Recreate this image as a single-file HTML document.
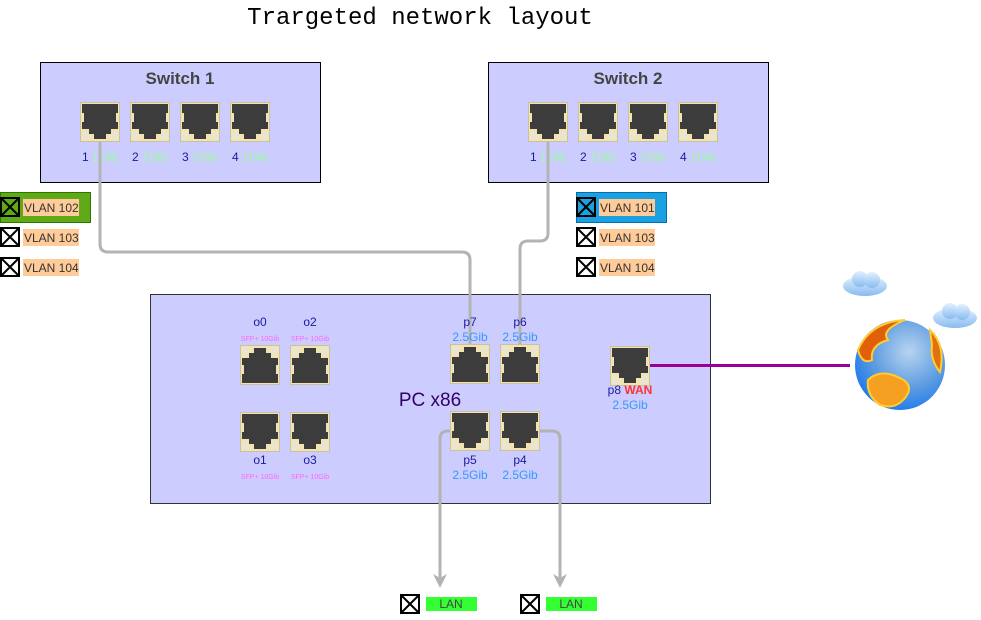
<!DOCTYPE html>
<html><head><meta charset="utf-8"><style>
html,body{margin:0;padding:0;background:#fff;}
svg{display:block;font-family:"Liberation Sans",sans-serif;}
</style></head><body>
<svg width="981" height="620" viewBox="0 0 981 620" xmlns="http://www.w3.org/2000/svg">
<defs>
<g id="port">
<rect x="0.5" y="0.5" width="39" height="39" fill="#f2e3b3" stroke="#c9c1a2"/>
<rect x="2" y="30" width="7" height="8" fill="#e9e5cf"/>
<rect x="31" y="30" width="7" height="8" fill="#e9e5cf"/>
<rect x="2" y="2" width="5" height="6" fill="#e9e5cf"/>
<rect x="33" y="2" width="5" height="6" fill="#e9e5cf"/>
<path d="M2 2 H38 V11 H36 V20 H38 V27 H31 V32 H26 V37 H14 V32 H9 V27 H2 V20 H4 V11 H2Z" fill="#3c3c3c"/>
</g>
<g id="portf"><use href="#port" transform="translate(0,40) scale(1,-1)"/></g>
<g id="cb"><rect x="1" y="1" width="18" height="18" fill="#fff" stroke="#000" stroke-width="2"/><path d="M1 1 L19 19 M19 1 L1 19" stroke="#000" stroke-width="2"/></g>
<radialGradient id="gl" cx="0.6" cy="0.35" r="0.7"><stop offset="0" stop-color="#b8d4f0"/><stop offset="0.6" stop-color="#5a9ae0"/><stop offset="1" stop-color="#1a78f0"/></radialGradient>
<linearGradient id="cl" x1="0" y1="0" x2="0" y2="1"><stop offset="0" stop-color="#e4f0ff"/><stop offset="1" stop-color="#88bbf0"/></linearGradient>
</defs>

<text x="420" y="24" text-anchor="middle" font-family="Liberation Mono,monospace" font-size="24" fill="#000">Trargeted network layout</text>

<!-- Switch 1 -->
<rect x="40.5" y="62.5" width="280" height="120" fill="#ccccff" stroke="#000"/>
<text x="180" y="84" text-anchor="middle" font-size="17" font-weight="bold" fill="#444">Switch 1</text>
<use href="#port" x="80" y="102"/><use href="#port" x="130" y="102"/><use href="#port" x="180" y="102"/><use href="#port" x="230" y="102"/>
<g font-size="12"><text x="82" y="161" fill="#1a1aa0">1 <tspan fill="#99ff99">1Gib</tspan></text>
<text x="132" y="161" fill="#1a1aa0">2 <tspan fill="#99ff99">1Gib</tspan></text>
<text x="182" y="161" fill="#1a1aa0">3 <tspan fill="#99ff99">1Gib</tspan></text>
<text x="232" y="161" fill="#1a1aa0">4 <tspan fill="#99ff99">1Gib</tspan></text></g>

<!-- Switch 2 -->
<rect x="488.5" y="62.5" width="280" height="120" fill="#ccccff" stroke="#000"/>
<text x="628" y="84" text-anchor="middle" font-size="17" font-weight="bold" fill="#444">Switch 2</text>
<use href="#port" x="528" y="102"/><use href="#port" x="578" y="102"/><use href="#port" x="628" y="102"/><use href="#port" x="678" y="102"/>
<g font-size="12"><text x="530" y="161" fill="#1a1aa0">1 <tspan fill="#99ff99">1Gib</tspan></text>
<text x="580" y="161" fill="#1a1aa0">2 <tspan fill="#99ff99">1Gib</tspan></text>
<text x="630" y="161" fill="#1a1aa0">3 <tspan fill="#99ff99">1Gib</tspan></text>
<text x="680" y="161" fill="#1a1aa0">4 <tspan fill="#99ff99">1Gib</tspan></text></g>

<!-- VLANs left -->
<rect x="0.5" y="192.5" width="90" height="30" fill="#60a917" stroke="#2d7600"/>
<g font-size="12" fill="#333">
<rect x="0" y="197" width="20" height="20" fill="#60a917"/><path d="M1 198 H19 V216 H1Z M1 198 L19 216 M19 198 L1 216" stroke="#000" stroke-width="2" fill="none"/>
<rect x="23" y="199" width="56" height="17" fill="#ffcc99"/><text x="24" y="212">VLAN 102</text>
<use href="#cb" x="0" y="227"/><rect x="23" y="229" width="56" height="17" fill="#ffcc99"/><text x="24" y="242">VLAN 103</text>
<use href="#cb" x="0" y="257"/><rect x="23" y="259" width="56" height="17" fill="#ffcc99"/><text x="24" y="272">VLAN 104</text>
</g>
<!-- VLANs right -->
<rect x="576.5" y="192.5" width="90" height="30" fill="#1ba1e2" stroke="#006eaf"/>
<g font-size="12" fill="#333">
<path d="M577 198 H595 V216 H577Z M577 198 L595 216 M595 198 L577 216" stroke="#000" stroke-width="2" fill="none"/>
<rect x="599" y="199" width="56" height="17" fill="#ffcc99"/><text x="600" y="212">VLAN 101</text>
<use href="#cb" x="576" y="227"/><rect x="599" y="229" width="56" height="17" fill="#ffcc99"/><text x="600" y="242">VLAN 103</text>
<use href="#cb" x="576" y="257"/><rect x="599" y="259" width="56" height="17" fill="#ffcc99"/><text x="600" y="272">VLAN 104</text>
</g>

<!-- PC -->
<rect x="150.5" y="294.5" width="560" height="209" fill="#ccccff" stroke="#333"/>
<text x="430" y="406" text-anchor="middle" font-size="19" fill="#330066">PC x86</text>
<g text-anchor="middle">
<text x="260" y="326" font-size="12" fill="#1a1aa0">o0</text><text x="260" y="341" font-size="7" fill="#ff66ff">SFP+ 10Gib</text>
<text x="310" y="326" font-size="12" fill="#1a1aa0">o2</text><text x="310" y="341" font-size="7" fill="#ff66ff">SFP+ 10Gib</text>
<text x="260" y="464" font-size="12" fill="#1a1aa0">o1</text><text x="260" y="479" font-size="7" fill="#ff66ff">SFP+ 10Gib</text>
<text x="310" y="464" font-size="12" fill="#1a1aa0">o3</text><text x="310" y="479" font-size="7" fill="#ff66ff">SFP+ 10Gib</text>
</g>
<use href="#portf" x="240" y="345"/><use href="#portf" x="290" y="345"/>
<use href="#port" x="240" y="412"/><use href="#port" x="290" y="412"/>
<use href="#portf" x="450" y="344"/><use href="#portf" x="500" y="344"/>
<use href="#port" x="450" y="411"/><use href="#port" x="500" y="411"/>
<use href="#port" x="610" y="346"/>

<!-- cables -->
<g fill="none" stroke="#b3b3b3" stroke-width="3">
<path d="M100 142 V244 Q100 252 108 252 H462 Q470 252 470 260 V344"/>
<path d="M548 142 V233 Q548 241 540 241 H528 Q520 241 520 249 V344"/>
<path d="M450 431 H448 Q440 431 440 439 V578"/>
<path d="M540 431 H552 Q560 431 560 439 V578"/>
</g>
<path d="M433 574 L440 588 L447 574 L440 578Z" fill="#b3b3b3"/>
<path d="M553 574 L560 588 L567 574 L560 578Z" fill="#b3b3b3"/>

<g text-anchor="middle">
<text x="470" y="326" font-size="12" fill="#1a1aa0">p7</text><text x="470" y="341" font-size="12" fill="#3399ff">2.5Gib</text>
<text x="520" y="326" font-size="12" fill="#1a1aa0">p6</text><text x="520" y="341" font-size="12" fill="#3399ff">2.5Gib</text>
<text x="470" y="464" font-size="12" fill="#1a1aa0">p5</text><text x="470" y="479" font-size="12" fill="#3399ff">2.5Gib</text>
<text x="520" y="464" font-size="12" fill="#1a1aa0">p4</text><text x="520" y="479" font-size="12" fill="#3399ff">2.5Gib</text>
<text x="630" y="394" font-size="12" fill="#1a1aa0">p8 <tspan fill="#ff3333" font-weight="bold">WAN</tspan></text>
<text x="630" y="409" font-size="12" fill="#3399ff">2.5Gib</text>
</g>

<line x1="650" y1="365.5" x2="850" y2="365.5" stroke="#990099" stroke-width="3"/>

<!-- globe -->
<circle cx="900" cy="365" r="45" fill="url(#gl)"/>
<path d="M858 350 Q870 322 905 320 Q880 330 888 340 Q870 345 872 360 Q862 365 858 350Z" fill="#e0600a" stroke="#ffcc33" stroke-width="2"/>
<path d="M868 380 Q880 368 900 378 Q915 385 905 398 Q895 410 880 405 Q866 395 868 380Z" fill="#f5a020" stroke="#ffcc33" stroke-width="2"/>
<path d="M930 330 Q946 345 940 372 Q930 360 932 345Z" fill="#e07010" stroke="#ffcc33" stroke-width="2"/>
<g fill="url(#cl)">
<ellipse cx="865" cy="286" rx="22" ry="10"/><circle cx="860" cy="279" r="8"/><circle cx="872" cy="280" r="8"/>
<ellipse cx="955" cy="318" rx="22" ry="10"/><circle cx="950" cy="311" r="8"/><circle cx="962" cy="312" r="8"/>
</g>

<!-- LAN -->
<use href="#cb" x="400" y="594"/>
<rect x="426" y="597" width="51" height="14" fill="#33ff33"/><text x="451" y="608" text-anchor="middle" font-size="12" fill="#444">LAN</text>
<use href="#cb" x="520" y="594"/>
<rect x="546" y="597" width="51" height="14" fill="#33ff33"/><text x="571" y="608" text-anchor="middle" font-size="12" fill="#444">LAN</text>
</svg>
</body></html>
